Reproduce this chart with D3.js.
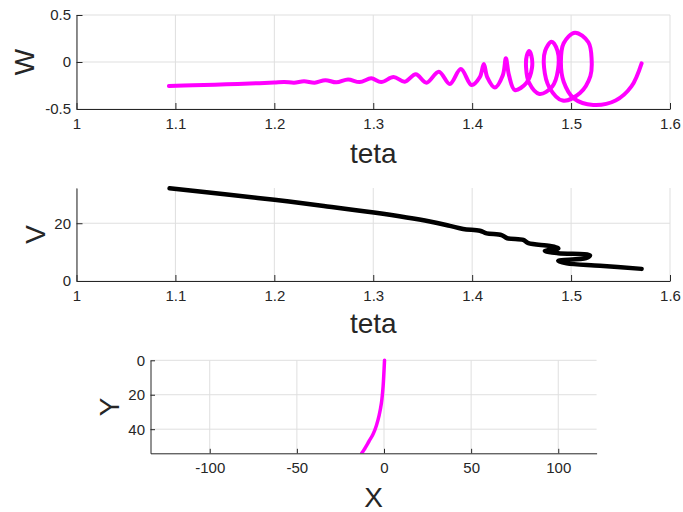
<!DOCTYPE html>
<html lang="en">
  <head>
    <meta charset="UTF-8" />
    <title>W, V and path</title>
    <script src="https://cdnjs.cloudflare.com/ajax/libs/d3/7.8.5/d3.min.js"></script>
    <style>
      body {
        margin: 0;
        background: #fff;
      }
      svg {
        display: block;
        font-family: 'Liberation Sans', Arial, sans-serif;
      }
      .grid line {
        stroke: #dfdfdf;
        stroke-width: 1;
      }
      .axis path,
      .axis line {
        stroke: #262626;
        stroke-width: 1;
      }
      .axis text {
        fill: #262626;
        font-size: 15px;
      }
      .label {
        fill: #262626;
        font-size: 28px;
      }
    </style>
  </head>
  <body>
    <svg width="683" height="512"></svg>
    <script>
      // tick labels
      const tetaTicks = [1, 1.1, 1.2, 1.3, 1.4, 1.5, 1.6];
      const wTicks = [-0.5, 0, 0.5];
      const vTicks = [0, 20];
      const xTicks = [-100, -50, 0, 50, 100];
      const yTicks = [0, 20, 40];

      // axis limits
      const tetaLim = [1, 1.6];
      const wLim = [-0.5, 0.5];
      const vLim = [0, 32.2];
      const xLim = [-134, 122];
      const yLim = [0, 54];

      // W against teta
      const wTeta = [
        1.0934, 1.1177, 1.1515, 1.185, 1.2, 1.21, 1.22, 1.23, 1.2408, 1.2516, 1.2627, 1.2745, 1.2863,
        1.298, 1.308, 1.3205, 1.3319, 1.343, 1.3538, 1.3663, 1.3774, 1.3885, 1.3994, 1.4078, 1.4118,
        1.4152, 1.423, 1.431, 1.4341, 1.4372, 1.4432, 1.455, 1.4605, 1.4598, 1.4577, 1.4553, 1.4545,
        1.4575, 1.468, 1.481, 1.4868, 1.4862, 1.4803, 1.4738, 1.4727, 1.478, 1.4915, 1.509, 1.5195,
        1.5208, 1.5175, 1.5039, 1.4925, 1.4897, 1.4925, 1.503, 1.5224, 1.545, 1.561, 1.5713,
      ];
      const wVals = [
        -0.255, -0.248, -0.237, -0.225, -0.218, -0.212, -0.22, -0.205, -0.22, -0.193, -0.216, -0.185, -0.214,
        -0.174, -0.214, -0.16, -0.21, -0.131, -0.22, -0.103, -0.234, -0.074, -0.245, -0.16, -0.02,
        -0.16, -0.27, -0.14, 0.04, -0.14, -0.298, -0.22, -0.06, 0.07, 0.117, 0.07, -0.06,
        -0.22, -0.34, -0.26, -0.08, 0.12, 0.216, 0.12, -0.06, -0.27, -0.41, -0.33, -0.15,
        0.02, 0.21, 0.312, 0.2, 0.0, -0.21, -0.39, -0.457, -0.41, -0.26, -0.014,
      ];

      // V against teta
      const vTeta = [
        1.0941, 1.15, 1.2, 1.25, 1.3007, 1.3572, 1.3774, 1.3909, 1.4078, 1.4146, 1.4298, 1.4355,
        1.4517, 1.4568, 1.4787, 1.4871, 1.4735, 1.487, 1.5191, 1.515, 1.487, 1.4955, 1.5292, 1.5713,
      ];
      const vVals = [
        32.1, 30.0, 28.1, 26.0, 23.7, 20.6, 19.1, 18.0, 17.4, 16.5, 15.9, 14.8,
        14.2, 13.1, 12.1, 11.3, 10.4, 9.6, 8.9, 7.9, 7.0, 6.1, 5.3, 4.2,
      ];

      // path in the X-Y plane
      const pathX = [0.3, -0.1, -0.5, -1.5, -2.8, -4.4, -6.3, -8.6, -11.5, -12.8];
      const pathY = [0, 8, 15, 25, 32, 38, 43, 47, 52, 54];

      const svg = d3.select('svg');

      function panel(opt) {
        const x = d3.scaleLinear().domain(opt.xLim).range([opt.left, opt.right]);
        const y = d3.scaleLinear().domain(opt.yLim).range(opt.yReverse ? [opt.top, opt.bottom] : [opt.bottom, opt.top]);
        const g = svg.append('g');

        // grid
        const grid = g.append('g').attr('class', 'grid');
        grid
          .selectAll('.gx')
          .data(opt.xTicks)
          .enter()
          .append('line')
          .attr('x1', d => x(d))
          .attr('x2', d => x(d))
          .attr('y1', opt.top)
          .attr('y2', opt.bottom);
        grid
          .selectAll('.gy')
          .data(opt.yTicks)
          .enter()
          .append('line')
          .attr('x1', opt.left)
          .attr('x2', opt.right)
          .attr('y1', d => y(d))
          .attr('y2', d => y(d));

        // data line
        const clipId = 'clip' + opt.id;
        g.append('clipPath')
          .attr('id', clipId)
          .append('rect')
          .attr('x', opt.left)
          .attr('y', opt.top - 3)
          .attr('width', opt.right - opt.left)
          .attr('height', opt.bottom - opt.top + 3);
        const pts = opt.xs.map((v, i) => [v, opt.ys[i]]);
        const line = d3
          .line()
          .x(d => x(d[0]))
          .y(d => y(d[1]))
          .curve(d3.curveCatmullRom.alpha(0.5));
        g.append('path')
          .datum(pts)
          .attr('clip-path', opt.clip ? `url(#${clipId})` : null)
          .attr('fill', 'none')
          .attr('stroke', opt.color)
          .attr('stroke-width', opt.width)
          .attr('stroke-linejoin', 'round')
          .attr('stroke-linecap', 'round')
          .attr('d', line);

        // axes, ticks pointing inward
        const fmt = d => String(d);
        g.append('g')
          .attr('class', 'axis')
          .attr('transform', `translate(0,${opt.bottom})`)
          .call(d3.axisBottom(x).tickValues(opt.xTicks).tickFormat(fmt).tickSizeInner(-opt.tick).tickSizeOuter(0).tickPadding(9.5));
        g.append('g')
          .attr('class', 'axis')
          .attr('transform', `translate(${opt.left},0)`)
          .call(d3.axisLeft(y).tickValues(opt.yTicks).tickFormat(fmt).tickSizeInner(-opt.tick).tickSizeOuter(0).tickPadding(5.5));
        g.selectAll('.axis .domain').attr('fill', 'none');

        // labels
        g.append('text')
          .attr('class', 'label')
          .attr('x', (opt.left + opt.right) / 2)
          .attr('y', opt.xLabelY)
          .attr('text-anchor', 'middle')
          .text(opt.xLabel);
        g.append('text')
          .attr('class', 'label')
          .attr('transform', `translate(${opt.yLabelX},${(opt.top + opt.bottom) / 2}) rotate(-90)`)
          .attr('text-anchor', 'middle')
          .text(opt.yLabel);
      }

      panel({
        id: 1, left: 76.5, right: 670, top: 15, bottom: 109,
        xLim: tetaLim, yLim: wLim, xTicks: tetaTicks, yTicks: wTicks,
        xs: wTeta, ys: wVals, color: '#ff00ff', width: 4, tick: 6,
        xLabel: 'teta', xLabelY: 163, yLabel: 'W', yLabelX: 34,
      });

      panel({
        id: 2, left: 76.5, right: 670, top: 188, bottom: 281,
        xLim: tetaLim, yLim: vLim, xTicks: tetaTicks, yTicks: vTicks,
        xs: vTeta, ys: vVals, color: '#000000', width: 4.5, tick: 6,
        xLabel: 'teta', xLabelY: 333, yLabel: 'V', yLabelX: 45,
      });

      panel({
        id: 3, left: 150.5, right: 596.6, top: 360.3, bottom: 453.3, yReverse: true, clip: true,
        xLim: xLim, yLim: yLim, xTicks: xTicks, yTicks: yTicks,
        xs: pathX, ys: pathY, color: '#ff00ff', width: 3.5, tick: 4.5,
        xLabel: 'X', xLabelY: 507, yLabel: 'Y', yLabelX: 118.6,
      });
    </script>
  </body>
</html>
